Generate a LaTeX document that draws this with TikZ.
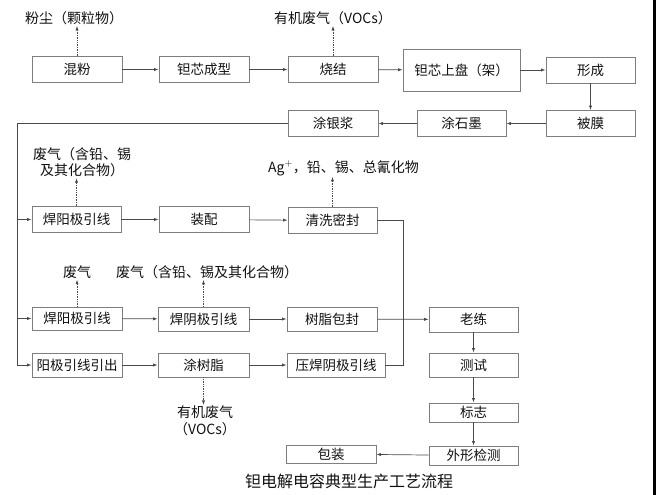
\documentclass[tikz,border=0pt]{standalone}
\usepackage{fontspec}
\newfontfamily\cjk{Noto Sans CJK SC}
\usepackage{tikz}
\usetikzlibrary{calc,arrows.meta}
\usetikzlibrary{positioning}
\definecolor{fc-text}{HTML}{111111}
\definecolor{fc-line}{HTML}{4A4A4A}
\definecolor{fc-edge}{HTML}{7E7E7E}

\begin{document}
\begin{tikzpicture}[x=1pt, y=-1pt, >={Latex[length=4.5pt,width=3.2pt]}, thin,
    stepbox/.style={draw=fc-edge, fill=white, line width=0.75pt, inner sep=0pt,
        minimum width=90pt, minimum height=26pt,
        font=\cjk\fontsize{13.5}{16}\selectfont, text=fc-text},
    outlabel/.style={font=\cjk\fontsize{14}{16.5}\selectfont, text=fc-text, inner sep=1pt},
    flow/.style={->, draw=fc-line, line width=0.7pt},
    emit/.style={->, draw=fc-line, line width=0.7pt, densely dotted}]
    \useasboundingbox (0,0) rectangle (656,495);
    \fill[black] (653,0) rectangle (656,495);

    % --- Row 1: forming of the core ---
    \node[stepbox] (mix)    at (77, 69.5)    {混粉};
    \node[stepbox] (core)   at (204, 69.5)   {钽芯成型};
    \node[stepbox] (sinter) at (333, 69.5)   {烧结};
    \node[stepbox, minimum width=117pt, minimum height=42pt] (mount) at (461.5, 70) {钽芯上盘（架）};
    \node[stepbox, minimum width=89pt] (form) at (590.5, 70) {形成};
    \node[outlabel] (dust) at (74, 18)   {粉尘（颗粒物）};
    \node[outlabel] (voc1) at (333, 18)  {有机废气（VOCs）};

    % --- Row 2: coating, right to left ---
    \node[stepbox, minimum width=89pt] (film)     at (590.5, 123.5) {被膜};
    \node[stepbox, minimum width=89pt] (graphite) at (461.5, 123.5) {涂石墨};
    \node[stepbox] (silver)   at (333, 123.5)   {涂银浆};

    % --- Row 3 ---
    \node[stepbox, minimum width=89pt] (weldA) at (76.5, 219.5) {焊阳极引线};
    \node[stepbox] (assem) at (204, 219.5) {装配};
    \node[stepbox, minimum width=89pt] (clean) at (332.5, 220.5) {清洗密封};
    \node[outlabel, align=center] (gas1) at (82, 162) {废气（含铅、锡\\及其化合物）};
    \node[outlabel] (ag) at (343.5, 168) {Ag$^{+}$，铅、锡、总氰化物};

    % --- Row 4 ---
    \node[stepbox, minimum height=23pt] (weldA2) at (77, 318.5)  {焊阳极引线};
    \node[stepbox, minimum width=91pt, minimum height=24pt] (weldC) at (203.5, 319) {焊阴极引线};
    \node[stepbox, minimum height=24pt] (resin)  at (332, 319)   {树脂包封};
    \node[stepbox, minimum width=89pt, minimum height=25pt] (aging) at (473.5, 319.5) {老练};
    \node[outlabel] (gas2) at (77, 272)  {废气};
    \node[outlabel] (gas3) at (207, 272) {废气（含铅、锡及其化合物）};

    % --- Row 5 ---
    \node[stepbox, minimum height=24pt] (leadout) at (77, 365) {阳极引线引出};
    \node[stepbox, minimum width=91pt, minimum height=24pt] (coatresin) at (203.5, 365) {涂树脂};
    \node[stepbox, minimum width=98pt, minimum height=24pt] (presswC) at (336, 365) {压焊阴极引线};
    \node[stepbox, minimum width=89pt, minimum height=24pt] (test) at (473.5, 365) {测试};
    \node[outlabel, align=center] (voc2) at (205, 421) {有机废气\\（VOCs）};

    % --- Final steps ---
    \node[stepbox, minimum width=89pt, minimum height=19pt] (mark)    at (473.5, 412.5) {标志};
    \node[stepbox, minimum width=89pt, minimum height=19pt] (inspect) at (473.5, 455.5) {外形检测};
    \node[stepbox, minimum height=18pt] (pack) at (331, 454) {包装};
    \node[font=\cjk\fontsize{16}{18}\selectfont, text=fc-text] (title) at (349, 481) {钽电解电容典型生产工艺流程};

    % --- Main flow ---
    \draw[flow] (mix) -- (core);
    \draw[flow] (core) -- (sinter);
    \draw[flow] (sinter) -- (mount);
    \draw[flow] (mount) -- (form);
    \draw[flow] (form) -- (film);
    \draw[flow] (film) -- (graphite);
    \draw[flow] (graphite) -- (silver);

    \coordinate (bus) at (17, 123.5);
    \draw[flow] (silver.west) -- (bus) -- (bus |- leadout) -- (leadout.west);
    \draw[flow] (bus |- weldA) -- (weldA.west);
    \draw[flow] (bus |- weldA2) -- (weldA2.west);

    \draw[flow] (weldA) -- (assem);
    \draw[flow] (assem) -- (clean);
    \draw[flow] (weldA2) -- (weldC);
    \draw[flow] (weldC) -- (resin);
    \draw[flow] (leadout) -- (coatresin);
    \draw[flow] (coatresin) -- (presswC);

    \coordinate (join) at (403, 319);
    \draw[draw=fc-line, line width=0.7pt] (clean.east) -- (clean.east -| join) -- (join |- presswC) -- (presswC.east);
    \draw[flow] (resin) -- (aging);

    \draw[flow] (aging) -- (test);
    \draw[flow] (test) -- (mark);
    \draw[flow] (mark) -- (inspect);
    \draw[flow] (inspect) -- (pack);

    % --- Emissions ---
    \draw[emit] (mix.north) -- (mix.north |- dust.south);
    \draw[emit] (sinter.north) -- (sinter.north |- voc1.south);
    \draw[emit] (weldA.north) -- (weldA.north |- gas1.south);
    \draw[emit] (clean.north) -- (clean.north |- ag.south);
    \draw[emit] (weldA2.north) -- (weldA2.north |- gas2.south);
    \draw[emit] (weldC.north) -- (weldC.north |- gas3.south);
    \draw[emit] (coatresin.south) -- (coatresin.south |- voc2.north);
\end{tikzpicture}
\end{document}
